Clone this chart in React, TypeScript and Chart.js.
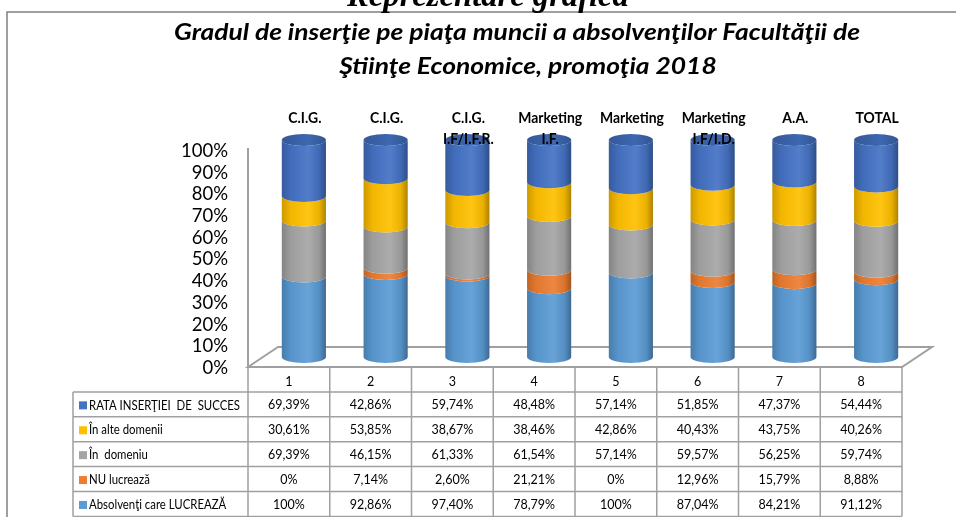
import React, { useEffect, useRef } from "react";
import { Chart, registerables } from "chart.js";

Chart.register(...registerables);

// ---------- data ----------
const categories: string[][] = [
  ["C.I.G."],
  ["C.I.G."],
  ["C.I.G.", "I.F/I.F.R."],
  ["Marketing", "I.F."],
  ["Marketing"],
  ["Marketing", "I.F/I.D."],
  ["A.A."],
  ["TOTAL"],
];
const columnNumbers = ["1", "2", "3", "4", "5", "6", "7", "8"];

// stack order: bottom -> top
const lucreaza = [100, 92.86, 97.4, 78.79, 100, 87.04, 84.21, 91.12];
const nuLucreaza = [0, 7.14, 2.6, 21.21, 0, 12.96, 15.79, 8.88];
const inDomeniu = [69.39, 46.15, 61.33, 61.54, 57.14, 59.57, 56.25, 59.74];
const inAlteDomenii = [30.61, 53.85, 38.67, 38.46, 42.86, 40.43, 43.75, 40.26];
const rataInsertiei = [69.39, 42.86, 59.74, 48.48, 57.14, 51.85, 47.37, 54.44];

const seriesNames = [
  "Absolvenţi care LUCREAZĂ",
  "NU lucrează",
  "În  domeniu",
  "În alte domenii",
  "RATA INSERŢIEI  DE  SUCCES",
];
const seriesValues = [lucreaza, nuLucreaza, inDomeniu, inAlteDomenii, rataInsertiei];
const yTickLabels = ["0%", "10%", "20%", "30%", "40%", "50%", "60%", "70%", "80%", "90%", "100%"];

const pageTitle = "Reprezentare grafică";
const titleLines = [
  "Gradul de inserţie pe piaţa muncii a absolvenţilor Facultăţii de",
  "Ştiinţe Economice, promoţia 2018",
];

// ---------- styles ----------
const seriesColors = ["#5B9BD5", "#ED7D31", "#A5A5A5", "#FFC000", "#4472C4"];
const FONT = "Lato, 'Noto Sans', sans-serif";
const GRID = "#a0a0a0";
const DEPTH_X = 15; // half depth offset
const DEPTH_Y = 10;

const totals = columnNumbers.map((_, i) =>
  seriesValues.reduce((s, arr) => s + arr[i], 0)
);

function hexToRgb(h: string) {
  const n = parseInt(h.slice(1), 16);
  return [(n >> 16) & 255, (n >> 8) & 255, n & 255];
}
function tone(h: string, f: number) {
  const [r, g, b] = hexToRgb(h);
  let c: number[];
  if (f <= 1) c = [r * f, g * f, b * f];
  else {
    const t = f - 1;
    c = [r + (255 - r) * t, g + (255 - g) * t, b + (255 - b) * t];
  }
  return `rgb(${c.map((v) => Math.round(v)).join(",")})`;
}
function fmt(v: number) {
  if (Number.isInteger(v)) return `${v}%`;
  return v.toFixed(2).replace(".", ",") + "%";
}
function drawScaled(ctx: CanvasRenderingContext2D, text: string, x: number, y: number, sx: number) {
  ctx.save();
  ctx.translate(x, y);
  ctx.scale(sx, 1);
  ctx.fillText(text, 0, 0);
  ctx.restore();
}

const cylinderPlugin = {
  id: "cylinders",
  beforeDatasetsDraw(chart: any) {
    const { ctx, chartArea } = chart;
    const fl = chartArea.left - DEPTH_X;
    const fr = chartArea.right - DEPTH_X;
    const fb = chartArea.bottom + DEPTH_Y;
    const bl = chartArea.left + DEPTH_X;
    const br = chartArea.right + DEPTH_X;
    const bb = chartArea.bottom - DEPTH_Y;
    ctx.save();
    ctx.strokeStyle = GRID;
    ctx.lineWidth = 2;
    ctx.beginPath();
    ctx.moveTo(fl, chartArea.top + DEPTH_Y - 2);
    ctx.lineTo(fl, fb);
    ctx.stroke();
    ctx.beginPath();
    ctx.moveTo(fl, fb);
    ctx.lineTo(bl, bb);
    ctx.lineTo(br, bb);
    ctx.lineTo(fr, fb);
    ctx.closePath();
    ctx.stroke();
    ctx.restore();
  },
  beforeDatasetDraw() {
    return false;
  },
  afterDatasetsDraw(chart: any) {
    const { ctx } = chart;
    const ry = 6;
    const n = chart.data.labels.length;
    const topIdx: number[] = new Array(n).fill(-1);
    chart.data.datasets.forEach((ds: any, d: number) => {
      const meta = chart.getDatasetMeta(d);
      const color = ds.backgroundColor as string;
      meta.data.forEach((el: any, i: number) => {
        const { x, y, base, width } = el.getProps(["x", "y", "base", "width"], true);
        if (Math.abs(base - y) < 0.01) return;
        topIdx[i] = d;
        const rx = width / 2;
        const l = x - rx;
        const r = x + rx;
        const g = ctx.createLinearGradient(l, 0, r, 0);
        g.addColorStop(0, tone(color, 0.8));
        g.addColorStop(0.2, tone(color, 0.95));
        g.addColorStop(0.6, tone(color, 1.08));
        g.addColorStop(0.85, tone(color, 0.92));
        g.addColorStop(1, tone(color, 0.68));
        ctx.save();
        ctx.beginPath();
        ctx.moveTo(l, y);
        ctx.ellipse(x, y, rx, ry, 0, Math.PI, 0, true);
        ctx.lineTo(r, base);
        ctx.ellipse(x, base, rx, ry, 0, 0, Math.PI, false);
        ctx.closePath();
        ctx.fillStyle = g;
        ctx.fill();
        ctx.restore();
      });
    });
    for (let i = 0; i < n; i++) {
      const d = topIdx[i];
      if (d < 0) continue;
      const el = chart.getDatasetMeta(d).data[i];
      const color = chart.data.datasets[d].backgroundColor as string;
      const { x, y, width } = el.getProps(["x", "y", "width"], true);
      const rx = width / 2;
      const g = ctx.createLinearGradient(x - rx, 0, x + rx, 0);
      g.addColorStop(0, tone(color, 0.78));
      g.addColorStop(0.6, tone(color, 0.9));
      g.addColorStop(1, tone(color, 0.75));
      ctx.save();
      ctx.beginPath();
      ctx.ellipse(x, y, rx, ry, 0, 0, Math.PI * 2);
      ctx.fillStyle = g;
      ctx.fill();
      ctx.restore();
    }
    const xs = chart.scales.x;
    ctx.save();
    ctx.fillStyle = "#000";
    ctx.font = `bold 15px ${FONT}`;
    ctx.textAlign = "center";
    ctx.textBaseline = "middle";
    categories.forEach((lines, i) => {
      const cx = xs.getPixelForValue(i) + 1;
      lines.forEach((t, k) => drawScaled(ctx, t, cx, 118 + k * 21, 0.93));
    });
    ctx.restore();
  },
  afterDraw(chart: any) {
    const { ctx, chartArea } = chart;
    const xs = chart.scales.x;
    const n = columnNumbers.length;
    const colW = xs.width / n;
    const x0 = chartArea.left - DEPTH_X;
    const x1 = x0 + colW * n;
    const top = chartArea.bottom + DEPTH_Y;
    const rowH = 24.9;
    const legendLeft = 73;
    const rows = seriesNames.length;
    const bottom = top + rowH * (rows + 1);

    ctx.save();
    ctx.strokeStyle = GRID;
    ctx.lineWidth = 1.5;
    ctx.beginPath();
    for (let k = 1; k <= rows + 1; k++) {
      const yy = top + k * rowH;
      ctx.moveTo(legendLeft, yy);
      ctx.lineTo(x1, yy);
    }
    for (let j = 0; j <= n; j++) {
      const xx = x0 + j * colW;
      ctx.moveTo(xx, top);
      ctx.lineTo(xx, bottom);
    }
    ctx.moveTo(legendLeft, top + rowH);
    ctx.lineTo(legendLeft, bottom);
    ctx.stroke();

    ctx.fillStyle = "#000";
    ctx.font = `12.5px ${FONT}`;
    ctx.textBaseline = "middle";
    ctx.textAlign = "center";
    columnNumbers.forEach((t, j) => {
      ctx.fillText(t, x0 + (j + 0.5) * colW, top + rowH / 2 + 3);
    });
    // legend label scale so longest label fits like the reference
    ctx.font = `13px ${FONT}`;
    const legSx = 151 / ctx.measureText(seriesNames[4]).width;
    for (let r = 0; r < rows; r++) {
      const d = rows - 1 - r;
      const cy = top + (r + 1) * rowH + rowH / 2 + 1;
      ctx.fillStyle = seriesColors[d];
      ctx.fillRect(legendLeft + 6, cy - 4, 8, 8);
      ctx.fillStyle = "#000";
      ctx.textAlign = "left";
      ctx.font = `13px ${FONT}`;
      drawScaled(ctx, seriesNames[d], legendLeft + 16, cy, legSx);
      ctx.textAlign = "center";
      ctx.font = `12.5px ${FONT}`;
      seriesValues[d].forEach((v, j) => {
        ctx.fillText(fmt(v), x0 + (j + 0.5) * colW, cy);
      });
    }

    // outer frame
    ctx.strokeStyle = "#808080";
    ctx.lineWidth = 1.5;
    ctx.beginPath();
    ctx.moveTo(7, 517);
    ctx.lineTo(7, 12);
    ctx.lineTo(956, 12);
    ctx.stroke();

    // page heading (cropped)
    ctx.textBaseline = "alphabetic";
    ctx.textAlign = "center";
    ctx.font = `italic bold 26px 'Liberation Serif', serif`;
    let w = ctx.measureText(pageTitle).width;
    const size = (26 * 282) / w;
    ctx.font = `italic bold ${size}px 'Liberation Serif', serif`;
    ctx.fillText(pageTitle, 488, 6);

    // chart title (condensed look)
    ctx.font = `italic bold 23.5px ${FONT}`;
    w = ctx.measureText(titleLines[0]).width;
    const tsx = 686 / w;
    drawScaled(ctx, titleLines[0], 517, 40, tsx);
    drawScaled(ctx, titleLines[1], 528, 74, tsx);
    ctx.restore();
  },
};

export default function App() {
  const ref = useRef<HTMLCanvasElement>(null);
  useEffect(() => {
    if (!ref.current) return;
    const chart = new Chart(ref.current, {
      type: "bar",
      data: {
        labels: columnNumbers,
        datasets: seriesValues.map((arr, d) => ({
          label: seriesNames[d],
          data: arr.map((v, i) => (v / totals[i]) * 100),
          backgroundColor: seriesColors[d],
          barPercentage: 0.54,
          categoryPercentage: 1,
        })),
      },
      options: {
        responsive: false,
        animation: false,
        events: [],
        layout: { padding: { top: 140, bottom: 160, left: 0, right: 39 } },
        plugins: {
          legend: { display: false },
          tooltip: { enabled: false },
          title: { display: false },
        },
        scales: {
          x: { stacked: true, display: false },
          y: {
            stacked: true,
            min: 0,
            max: 100,
            afterFit: (s: any) => {
              s.width = 263;
            },
            ticks: {
              stepSize: 10,
              autoSkip: false,
              padding: 35,
              labelOffset: 11,
              color: "#000",
              font: { family: FONT, size: 18.5 },
              callback: (_v: any, i: number) => yTickLabels[i],
            },
            grid: { display: false, drawTicks: false },
            border: { display: false },
          },
        },
      },
      plugins: [cylinderPlugin],
    });
    return () => chart.destroy();
  }, []);
  return (
    <div style={{ position: "fixed", left: 0, top: 0, width: 956, height: 517, background: "#fff" }}>
      <canvas ref={ref} width={956} height={517} style={{ display: "block" }} />
    </div>
  );
}
